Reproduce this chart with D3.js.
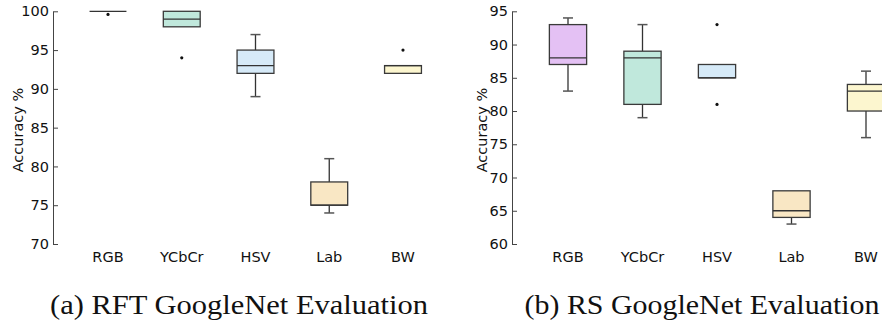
<!DOCTYPE html>
<html>
<head>
<meta charset="utf-8">
<script src="https://cdn.jsdelivr.net/npm/d3@7"></script>
<style>
  body { margin: 0; background: #fff; }
  svg { display: block; }
  .axis text { font-family: 'DejaVu Sans', sans-serif; font-size: 14.5px; fill: #111; }
  .axis path, .axis line { stroke: #444; }
</style>
</head>
<body>
<div id="chart"></div>
<script>
let categories = ['RGB', 'YCbCr', 'HSV', 'Lab', 'BW']
let colors = ['#e4c1f4', '#c0e8dc', '#d6eaf8', '#f9e7c4', '#fcf6cf']

// (a) RFT GoogleNet
let rftLow = [100, 98, 89, 74, 92]
let rftQ1 = [100, 98, 92, 75, 92]
let rftMedian = [100, 99, 93, 75, 93]
let rftQ3 = [100, 100, 95, 78, 93]
let rftHigh = [100, 100, 97, 81, 93]
let rftOutliers = [[99.6], [94], [], [], [95]]
let rftTicks = [70, 75, 80, 85, 90, 95, 100]

// (b) RS GoogleNet
let rsLow = [83, 79, 85, 63, 76]
let rsQ1 = [87, 81, 85, 64, 80]
let rsMedian = [88, 88, 85, 65, 83]
let rsQ3 = [93, 89, 87, 68, 84]
let rsHigh = [94, 93, 87, 68, 86]
let rsOutliers = [[], [], [93, 81], [], []]
let rsTicks = [60, 65, 70, 75, 80, 85, 90, 95]

let width = 882
let height = 325

let svg = d3
  .select('#chart')
  .append('svg')
  .attr('width', width)
  .attr('height', height)

function drawPanel(opts) {
  let g = svg.append('g')

  let y = d3.scaleLinear().domain(opts.domain).range([244, 11.3])
  let x = d3.scalePoint().domain(categories).range(opts.xRange)
  let boxW = x.step() * 0.5
  let capW = 10

  let data = categories.map((c, i) => ({
    cat: c,
    color: colors[i],
    low: opts.low[i],
    q1: opts.q1[i],
    med: opts.med[i],
    q3: opts.q3[i],
    high: opts.high[i],
    out: opts.out[i]
  }))

  let yAxis = d3
    .axisLeft(y)
    .tickValues(opts.ticks)
    .tickSizeInner(-5)
    .tickSizeOuter(0)
    .tickPadding(4)

  g.append('g')
    .attr('class', 'axis')
    .attr('transform', 'translate(' + opts.axisX + ',0)')
    .call(yAxis)

  g.append('text')
    .attr('transform', 'translate(' + opts.labelX + ',130) rotate(-90)')
    .attr('text-anchor', 'middle')
    .attr('font-family', 'DejaVu Sans, sans-serif')
    .attr('font-size', '14.5px')
    .attr('fill', '#111')
    .text('Accuracy %')

  let box = g.selectAll('.box').data(data).enter().append('g').attr('class', 'box')

  // whiskers
  box.filter(d => d.high > d.q3).append('line')
    .attr('x1', d => x(d.cat)).attr('x2', d => x(d.cat))
    .attr('y1', d => y(d.q3)).attr('y2', d => y(d.high))
    .attr('stroke', '#333').attr('stroke-width', 1.3)
  box.filter(d => d.high > d.q3).append('line')
    .attr('x1', d => x(d.cat) - capW / 2).attr('x2', d => x(d.cat) + capW / 2)
    .attr('y1', d => y(d.high)).attr('y2', d => y(d.high))
    .attr('stroke', '#555').attr('stroke-width', 1.5)
  box.filter(d => d.low < d.q1).append('line')
    .attr('x1', d => x(d.cat)).attr('x2', d => x(d.cat))
    .attr('y1', d => y(d.q1)).attr('y2', d => y(d.low))
    .attr('stroke', '#333').attr('stroke-width', 1.3)
  box.filter(d => d.low < d.q1).append('line')
    .attr('x1', d => x(d.cat) - capW / 2).attr('x2', d => x(d.cat) + capW / 2)
    .attr('y1', d => y(d.low)).attr('y2', d => y(d.low))
    .attr('stroke', '#555').attr('stroke-width', 1.5)

  box.append('rect')
    .attr('x', d => x(d.cat) - boxW / 2)
    .attr('y', d => y(d.q3))
    .attr('width', boxW)
    .attr('height', d => y(d.q1) - y(d.q3))
    .attr('fill', d => d.color)
    .attr('stroke', '#3a3a3a')
    .attr('stroke-width', 1.3)

  box.append('line')
    .attr('x1', d => x(d.cat) - boxW / 2).attr('x2', d => x(d.cat) + boxW / 2)
    .attr('y1', d => y(d.med)).attr('y2', d => y(d.med))
    .attr('stroke', '#333').attr('stroke-width', 1.3)

  box.selectAll('circle')
    .data(d => d.out.map(v => ({ cat: d.cat, v: v })))
    .enter()
    .append('circle')
    .attr('cx', d => x(d.cat))
    .attr('cy', d => y(d.v))
    .attr('r', 1.6)
    .attr('fill', '#111')

  g.selectAll('.cat-label')
    .data(categories)
    .enter()
    .append('text')
    .attr('class', 'cat-label')
    .attr('x', d => x(d))
    .attr('y', 262)
    .attr('text-anchor', 'middle')
    .attr('font-family', 'DejaVu Sans, sans-serif')
    .attr('font-size', '14.5px')
    .attr('fill', '#111')
    .text(d => d)

  svg.append('text')
    .attr('x', opts.captionX)
    .attr('y', 314)
    .attr('text-anchor', 'middle')
    .attr('font-family', 'Liberation Serif, serif')
    .attr('font-size', '27px')
    .attr('fill', '#111')
    .attr('textLength', opts.captionW)
    .attr('lengthAdjust', 'spacingAndGlyphs')
    .text(opts.caption)
}

drawPanel({
  domain: [70, 100],
  ticks: rftTicks,
  xRange: [108, 403],
  axisX: 53,
  labelX: 23,
  low: rftLow, q1: rftQ1, med: rftMedian, q3: rftQ3, high: rftHigh, out: rftOutliers,
  caption: '(a) RFT GoogleNet Evaluation',
  captionX: 239,
  captionW: 378
})

drawPanel({
  domain: [60, 95],
  ticks: rsTicks,
  xRange: [568, 866],
  axisX: 512,
  labelX: 487,
  low: rsLow, q1: rsQ1, med: rsMedian, q3: rsQ3, high: rsHigh, out: rsOutliers,
  caption: '(b) RS GoogleNet Evaluation',
  captionX: 702,
  captionW: 355
})
</script>
</body>
</html>
